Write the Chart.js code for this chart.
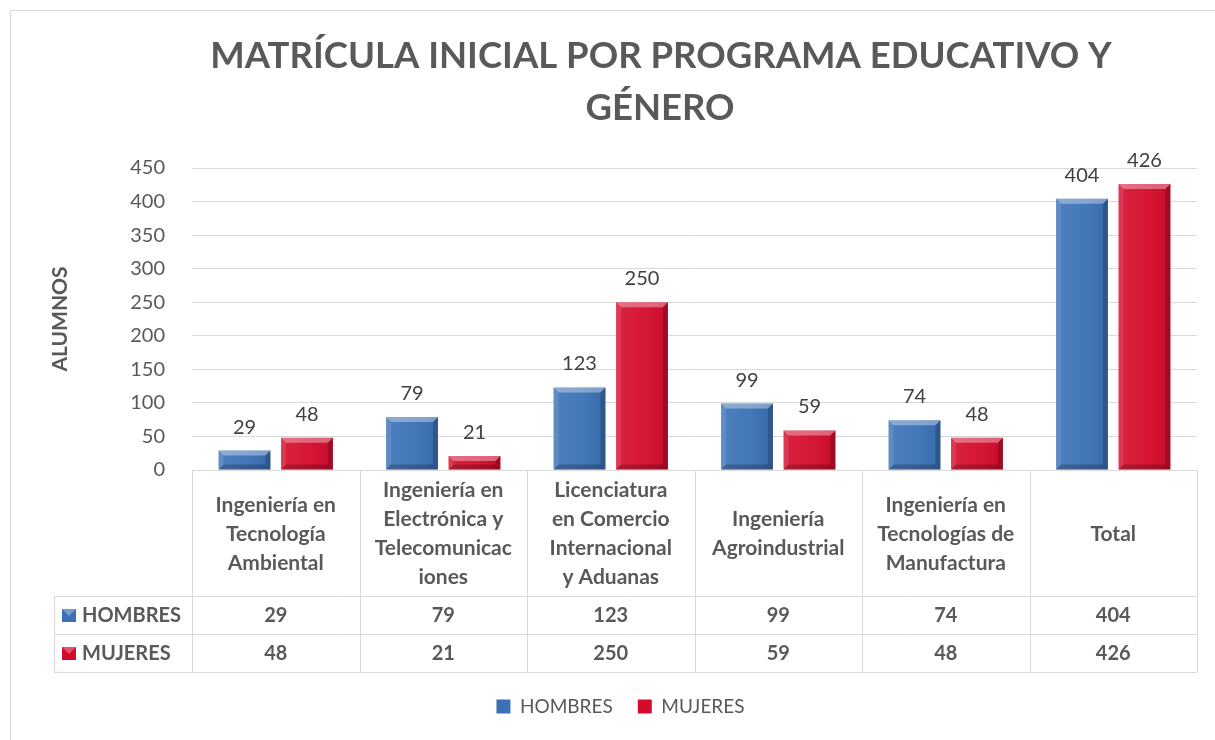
<!DOCTYPE html>
<html>
<head>
<meta charset="utf-8">
<script src="https://cdn.jsdelivr.net/npm/chart.js@4.4.1/dist/chart.umd.min.js"></script>
<style>
  html, body { margin: 0; padding: 0; background: #fff; }
  #wrap { position: relative; width: 1215px; height: 740px; overflow: hidden; }
  #frame { position: absolute; left: 10px; top: 10px; width: 1300px; height: 800px; border: 1px solid #d9d9d9; box-sizing: border-box; }
  canvas { position: absolute; left: 0; top: 0; }
</style>
</head>
<body>
<div id="wrap">
  <div id="frame"></div>
  <canvas id="chart" width="1215" height="740"></canvas>
</div>
<script>
// category labels as Excel wraps them in the data table
const categories = [
  ["Ingeniería en", "Tecnología", "Ambiental"],
  ["Ingeniería en", "Electrónica y", "Telecomunicac", "iones"],
  ["Licenciatura", "en Comercio", "Internacional", "y Aduanas"],
  ["Ingeniería", "Agroindustrial"],
  ["Ingeniería en", "Tecnologías de", "Manufactura"],
  ["Total"]
];
const seriesNames = ["HOMBRES", "MUJERES"];
const hombres = [29, 79, 123, 99, 74, 404];
const mujeres = [48, 21, 250, 59, 48, 426];
const yMax = 450;
const yStep = 50;
const titleLines = ["MATRÍCULA INICIAL POR PROGRAMA EDUCATIVO Y", "GÉNERO"];

const FONT = "Lato, 'Open Sans', sans-serif";
const TEXT = "#595959";
const LINE = "#d9d9d9";
const BLUE = "#3b71b6";
const RED = "#d50b2c";

// title drawn by hand so it can sit off-centre like the original
const titlePlugin = {
  id: "titleText",
  afterDraw(chart) {
    const ctx = chart.ctx;
    ctx.save();
    ctx.fillStyle = TEXT;
    ctx.font = "bold 36.5px " + FONT;
    ctx.textAlign = "center";
    ctx.textBaseline = "alphabetic";
    ctx.fillText(titleLines[0], 661, 68);
    ctx.fillText(titleLines[1], 660, 120);
    ctx.restore();
  }
};

// bevel look + value labels on the bars
const barPlugin = {
  id: "barDeco",
  afterDatasetsDraw(chart) {
    const ctx = chart.ctx;
    ctx.save();
    chart.data.datasets.forEach((ds, di) => {
      const meta = chart.getDatasetMeta(di);
      meta.data.forEach((bar, i) => {
        const l = bar.x - bar.width / 2, r = bar.x + bar.width / 2;
        const t = bar.y, b = bar.base;
        const k = Math.min(5, (b - t) / 2);
        const poly = (pts, col) => {
          ctx.beginPath();
          ctx.moveTo(pts[0][0], pts[0][1]);
          pts.slice(1).forEach(p => ctx.lineTo(p[0], p[1]));
          ctx.closePath();
          ctx.fillStyle = col;
          ctx.fill();
        };
        const g = ctx.createLinearGradient(l, 0, r, 0);
        g.addColorStop(0, "rgba(255,255,255,0.10)");
        g.addColorStop(0.5, "rgba(255,255,255,0.05)");
        g.addColorStop(1, "rgba(0,0,0,0.08)");
        ctx.fillStyle = g;
        ctx.fillRect(l, t, r - l, b - t);
        poly([[l, t], [r, t], [r - k, t + k], [l + k, t + k]], "rgba(255,255,255,0.35)");
        poly([[l, t], [l + k, t + k], [l + k, b - k], [l, b]], "rgba(255,255,255,0.10)");
        poly([[r, t], [r - k, t + k], [r - k, b - k], [r, b]], "rgba(0,0,0,0.18)");
        poly([[l, b], [l + k, b - k], [r - k, b - k], [r, b]], "rgba(0,0,0,0.22)");

        ctx.fillStyle = "#404040";
        ctx.font = "20px " + FONT;
        ctx.textAlign = "center";
        ctx.textBaseline = "alphabetic";
        ctx.fillText(String(ds.data[i]), bar.x, t - 17);
      });
    });
    ctx.restore();
  }
};

// data table under the plot
const tablePlugin = {
  id: "dataTable",
  afterDraw(chart) {
    const ctx = chart.ctx;
    const x = chart.scales.x;
    const area = chart.chartArea;
    const top = area.bottom;
    const headBottom = top + 126;
    const rowH = 38;
    const tableBottom = headBottom + rowH * 2;
    const leftCol = 54;
    const colW = (area.right - area.left) / categories.length;

    ctx.save();
    ctx.strokeStyle = LINE;
    ctx.lineWidth = 1;
    const hLine = (x1, x2, y) => { ctx.beginPath(); ctx.moveTo(x1, y + 0.5); ctx.lineTo(x2, y + 0.5); ctx.stroke(); };
    const vLine = (xx, y1, y2) => { ctx.beginPath(); ctx.moveTo(xx + 0.5, y1); ctx.lineTo(xx + 0.5, y2); ctx.stroke(); };

    hLine(area.left, area.right, top);
    hLine(leftCol, area.right, headBottom);
    hLine(leftCol, area.right, headBottom + rowH);
    hLine(leftCol, area.right, tableBottom);
    for (let i = 0; i <= categories.length; i++) {
      vLine(Math.round(area.left + i * colW), top, tableBottom);
    }
    vLine(leftCol, headBottom, tableBottom);

    ctx.fillStyle = TEXT;
    ctx.font = "bold 21px " + FONT;
    ctx.textAlign = "center";
    ctx.textBaseline = "middle";
    const lh = 29;
    categories.forEach((lines, i) => {
      const cx = x.getPixelForValue(i);
      const cy = (top + headBottom) / 2;
      lines.forEach((ln, j) => {
        ctx.fillText(ln, cx, cy + (j - (lines.length - 1) / 2) * lh + 1);
      });
    });

    const rows = [hombres, mujeres];
    const cols = [BLUE, RED];
    ctx.font = "bold 20px " + FONT;
    rows.forEach((vals, r) => {
      const cy = headBottom + rowH * r + rowH / 2 + 1;
      ctx.fillStyle = cols[r];
      ctx.fillRect(62, cy - 7, 14, 13);
      ctx.fillStyle = "rgba(255,255,255,0.3)";
      ctx.beginPath();
      ctx.moveTo(62, cy - 7); ctx.lineTo(76, cy - 7); ctx.lineTo(69, cy); ctx.closePath(); ctx.fill();
      ctx.fillStyle = TEXT;
      ctx.textAlign = "left";
      ctx.fillText(seriesNames[r], 82, cy);
      ctx.textAlign = "center";
      vals.forEach((v, i) => ctx.fillText(String(v), x.getPixelForValue(i), cy));
    });
    ctx.restore();
  }
};

new Chart(document.getElementById("chart"), {
  type: "bar",
  data: {
    labels: categories.map(c => c.join(" ")),
    datasets: [
      { label: seriesNames[0], data: hombres, backgroundColor: BLUE, borderWidth: 0 },
      { label: seriesNames[1], data: mujeres, backgroundColor: RED, borderWidth: 0 }
    ]
  },
  options: {
    responsive: false,
    devicePixelRatio: 1,
    animation: false,
    datasets: { bar: { categoryPercentage: 0.746, barPercentage: 0.83 } },
    layout: { padding: { top: 168, left: 44, right: 18, bottom: 14 } },
    plugins: {
      title: { display: false },
      tooltip: { enabled: false },
      legend: {
        position: "bottom",
        labels: {
          color: TEXT,
          font: { size: 19, family: FONT },
          boxWidth: 14,
          boxHeight: 14,
          padding: 25
        }
      }
    },
    scales: {
      x: {
        grid: { display: false },
        border: { display: false },
        ticks: { display: false },
        afterFit(s) { s.height = 202; }
      },
      y: {
        min: 0,
        max: yMax,
        grid: { color: LINE, drawTicks: false },
        border: { display: false },
        ticks: { stepSize: yStep, color: TEXT, font: { size: 20, family: FONT }, padding: 27 },
        title: { display: true, text: "ALUMNOS", color: TEXT, font: { size: 21, weight: "bold", family: FONT } },
        afterFit(s) { s.width = 148; }
      }
    }
  },
  plugins: [titlePlugin, barPlugin, tablePlugin]
});
</script>
</body>
</html>
